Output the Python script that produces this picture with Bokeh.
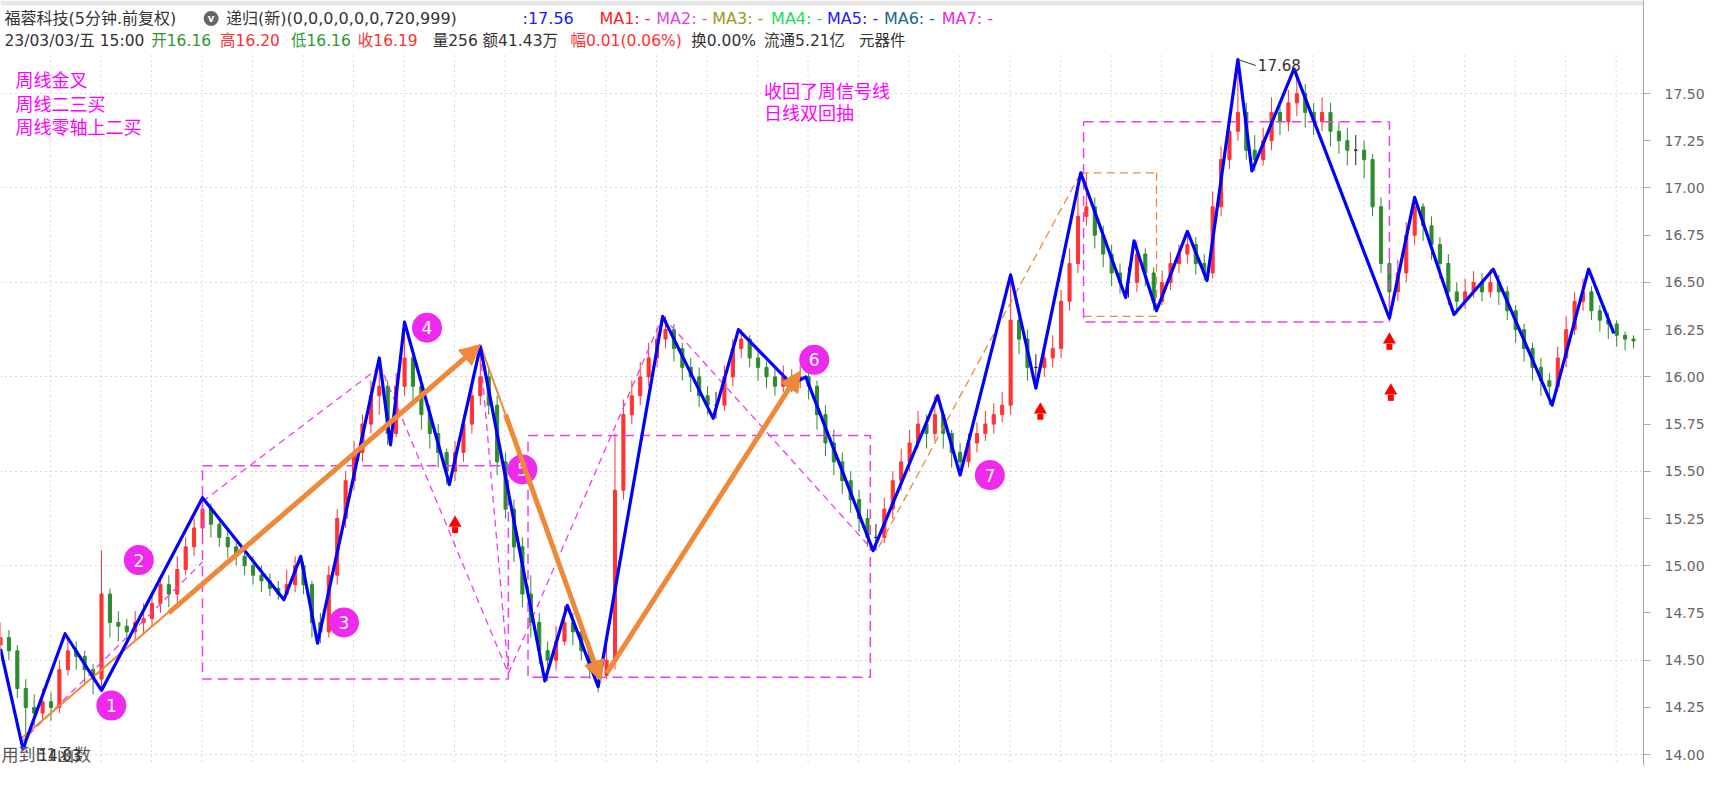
from bokeh.plotting import figure
from bokeh.models import Range1d, FixedTicker, PrintfTickFormatter, Arrow, NormalHead, ColumnDataSource
from bokeh.core.properties import value
from bokeh.embed import file_html
from bokeh.resources import INLINE

# ---------------- data ----------------
# 5-minute candles, one sample every 3 bars
BAR_STEP = 3
open_first = 14.58
close = [14.62,14.55,14.35,14.25,14.22,14.28,14.25,14.45,14.55,14.52,
         14.45,14.40,14.85,14.70,14.68,14.65,14.70,14.72,14.80,14.90,
         14.85,14.98,15.10,15.20,15.30,15.22,15.15,15.10,15.05,15.00,
         14.95,14.92,14.88,14.85,14.90,15.00,14.90,14.70,14.65,14.95,
         15.25,15.45,15.60,15.75,15.90,15.95,15.70,15.95,16.10,15.95,
         15.80,15.70,15.60,15.50,15.60,15.75,15.90,16.00,15.85,15.55,
         15.30,15.10,14.85,14.70,14.55,14.50,14.60,14.70,14.65,14.55,
         14.45,14.42,14.50,15.40,15.80,15.90,16.00,16.10,16.20,16.25,
         16.15,16.05,16.00,15.90,15.85,15.85,16.00,16.15,16.20,16.10,
         16.05,16.00,15.95,16.00,15.98,16.00,15.95,15.80,15.65,15.55,
         15.45,15.35,15.25,15.15,15.15,15.30,15.45,15.55,15.65,15.75,
         15.70,15.80,15.70,15.60,15.55,15.65,15.70,15.75,15.80,15.85,
         16.30,16.20,16.05,16.05,16.10,16.15,16.40,16.60,16.85,16.90,
         16.75,16.65,16.55,16.50,16.50,16.65,16.55,16.40,16.50,16.60,
         16.65,16.70,16.60,16.55,16.90,17.15,17.30,17.40,17.20,17.15,
         17.25,17.40,17.35,17.45,17.50,17.40,17.35,17.40,17.30,17.25,
         17.20,17.20,17.15,16.90,16.60,16.45,16.55,16.75,16.90,16.80,
         16.70,16.60,16.45,16.40,16.45,16.50,16.45,16.50,16.45,16.35,
         16.25,16.15,16.05,15.98,15.95,16.10,16.25,16.40,16.45,16.35,
         16.30,16.28,16.22,16.20,16.19]
high = [14.70,14.66,14.58,14.40,14.32,14.35,14.33,14.50,14.62,14.60,
        14.55,14.48,15.08,14.88,14.76,14.72,14.76,14.80,14.86,14.95,
        14.95,15.05,15.15,15.25,15.36,15.33,15.26,15.20,15.12,15.08,
        15.05,15.00,14.96,14.92,14.98,15.05,15.02,14.92,14.75,15.00,
        15.30,15.50,15.66,15.80,15.98,16.10,15.98,16.02,16.29,16.15,
        16.00,15.85,15.75,15.62,15.66,15.80,15.95,16.16,16.05,15.90,
        15.60,15.35,15.15,14.95,14.75,14.60,14.68,14.79,14.75,14.68,
        14.60,14.50,14.58,15.70,15.88,15.98,16.08,16.18,16.26,16.32,
        16.28,16.18,16.10,16.05,15.95,15.92,16.06,16.20,16.25,16.22,
        16.15,16.08,16.04,16.06,16.04,16.06,16.04,15.98,15.85,15.72,
        15.60,15.50,15.40,15.30,15.22,15.36,15.50,15.62,15.72,15.82,
        15.80,15.90,15.82,15.72,15.65,15.70,15.76,15.82,15.86,15.92,
        16.54,16.36,16.25,16.12,16.16,16.22,16.46,16.68,17.00,17.08,
        16.95,16.80,16.70,16.60,16.58,16.72,16.68,16.58,16.56,16.66,
        16.70,16.77,16.74,16.65,16.98,17.22,17.38,17.68,17.45,17.28,
        17.32,17.48,17.46,17.52,17.63,17.55,17.45,17.48,17.45,17.35,
        17.32,17.28,17.25,17.18,16.95,16.65,16.62,16.82,16.95,16.92,
        16.85,16.74,16.65,16.50,16.52,16.56,16.55,16.57,16.54,16.48,
        16.38,16.28,16.18,16.10,16.02,16.16,16.32,16.45,16.52,16.48,
        16.38,16.34,16.30,16.24,16.22]
low = [14.55,14.50,14.30,14.03,14.15,14.18,14.18,14.22,14.42,14.45,
       14.38,14.32,14.33,14.62,14.60,14.58,14.60,14.64,14.68,14.75,
       14.78,14.80,14.95,15.05,15.15,15.15,15.10,15.04,15.00,14.95,
       14.90,14.86,14.84,14.82,14.84,14.86,14.85,14.62,14.59,14.62,
       14.90,15.20,15.40,15.55,15.70,15.80,15.64,15.68,15.90,15.88,
       15.72,15.62,15.52,15.43,15.45,15.55,15.70,15.85,15.80,15.48,
       15.25,15.02,14.78,14.62,14.48,14.39,14.45,14.58,14.58,14.50,
       14.40,14.33,14.40,14.45,15.35,15.75,15.85,15.95,16.05,16.15,
       16.08,15.98,15.92,15.84,15.80,15.78,15.82,15.95,16.10,16.05,
       15.98,15.94,15.90,15.92,15.92,15.94,15.88,15.72,15.58,15.48,
       15.38,15.28,15.18,15.10,15.08,15.12,15.25,15.40,15.50,15.62,
       15.62,15.66,15.62,15.52,15.48,15.52,15.60,15.66,15.70,15.76,
       15.80,16.12,15.98,15.94,16.00,16.05,16.10,16.35,16.55,16.80,
       16.68,16.58,16.48,16.44,16.42,16.45,16.48,16.35,16.38,16.46,
       16.55,16.60,16.54,16.51,16.52,16.85,17.10,17.25,17.15,17.09,
       17.12,17.20,17.28,17.30,17.38,17.32,17.28,17.30,17.22,17.18,
       17.12,17.12,17.05,16.85,16.55,16.31,16.40,16.50,16.70,16.72,
       16.62,16.52,16.38,16.33,16.36,16.42,16.40,16.42,16.38,16.30,
       16.18,16.08,15.98,15.90,15.85,15.92,16.05,16.22,16.35,16.30,
       16.24,16.20,16.16,16.14,16.15]

# zigzag (递归) turning points: bar index, price
zz_bar = [0, 8, 23, 36, 72, 101, 107, 113, 135, 139, 144, 160, 171, 194, 202, 213,
          236, 254, 263, 282, 287, 311, 334, 342, 360, 369, 385, 401, 404, 412, 423,
          430, 441, 446, 461, 495, 504, 518, 532, 553, 566, 575]
zz_price = [14.56, 14.03, 14.64, 14.34, 15.36, 14.82, 15.05, 14.59, 16.10, 15.64, 16.29,
            15.43, 16.16, 14.39, 14.79, 14.36, 16.32, 15.78, 16.25, 15.96, 16.00, 15.08,
            15.90, 15.48, 16.54, 15.94, 17.08, 16.42, 16.72, 16.35, 16.77, 16.51, 17.68,
            17.09, 17.63, 16.31, 16.95, 16.33, 16.57, 15.85, 16.57, 16.23]

# orange trend lines (thin) and arrows (thick)
thin_x0 = [7, 171];      thin_y0 = [14.08, 16.17]
thin_x1 = [171, 180];    thin_y1 = [16.17, 15.80]
arr_x0 = [60, 180, 216]; arr_y0 = [14.75, 15.80, 14.43]
arr_x1 = [171, 214, 285]; arr_y1 = [16.17, 14.39, 16.03]
odash_x0 = [313, 385, 412, 386]; odash_y0 = [15.10, 17.08, 17.08, 16.32]
odash_x1 = [385, 412, 412, 412]; odash_y1 = [17.08, 17.08, 16.32, 16.32]

# magenta dashed boxes (left bar, right bar, top price, bottom price)
box_left = [72, 188, 386]
box_right = [181, 310, 495]
box_top = [15.53, 15.69, 17.35]
box_bottom = [14.40, 14.41, 16.29]
# magenta dashed diagonals
mdiag_x0 = [7, 72, 135, 171, 181, 236]
mdiag_y0 = [14.06, 15.34, 16.07, 16.13, 14.43, 16.32]
mdiag_x1 = [72, 135, 181, 181, 236, 311]
mdiag_y1 = [15.02, 16.05, 14.43, 14.43, 16.32, 15.08]

# numbered markers
mark_x = [39.5, 49.3, 122.4, 152, 186, 290, 352.6]
mark_y = [14.26, 15.03, 14.70, 16.26, 15.51, 16.09, 15.48]
mark_txt = ["1", "2", "3", "4", "5", "6", "7"]

# red up arrows
up_x = [162, 370.6, 495, 495.5]
up_y = [15.21, 15.81, 16.18, 15.91]

y_ticks = [14.00, 14.25, 14.50, 14.75, 15.00, 15.25, 15.50, 15.75, 16.00,
           16.25, 16.50, 16.75, 17.00, 17.25, 17.50]
y_grid = [14.0, 14.5, 15.0, 15.5, 16.0, 16.5, 17.0, 17.5]

header1 = [("福蓉科技(5分钟.前复权)", 4, "#333333"), ("递归(新)(0,0,0,0,0,0,720,999)", 226, "#333333"),
           (":17.56", 523, "#1a1aff"), ("MA1: -", 600, "#ff2020"), ("MA2: -", 657, "#dd44dd"),
           ("MA3: -", 713, "#9a9a22"), ("MA4: -", 772, "#22dd55"), ("MA5: -", 828, "#2222ff"),
           ("MA6: -", 885, "#226688"), ("MA7: -", 943, "#ee22ee")]
header2 = [("23/03/03/五 15:00", 4, "#333333"), ("开16.16", 151, "#2e9a2e"), ("高16.20", 220, "#ff3030"),
           ("低16.16", 291, "#2e9a2e"), ("收16.19", 358, "#ff3030"), ("量256", 433, "#333333"),
           ("额41.43万", 483, "#333333"), ("幅0.01(0.06%)", 571, "#ff3030"), ("换0.00%", 692, "#333333"),
           ("流通5.21亿", 765, "#333333"), ("元器件", 860, "#333333")]
notes_left = ["周线金叉", "周线二三买", "周线零轴上二买"]
notes_mid = ["收回了周信号线", "日线双回抽"]

# ---------------- layout helpers (pixels of the frame -> data) ----------------
PX = 2.811        # pixels per bar
PPU = 188.9       # pixels per price unit
FRAME_W, FRAME_H = 1646, 765
Y_TOP = 17.5 + 93 / PPU

def X(px):
    return px / PX

def Y(py):
    return Y_TOP - py / PPU

p = figure(width=1707, height=773, output_backend="svg", toolbar_location=None,
           x_range=Range1d(0, FRAME_W / PX), y_range=Range1d(Y(FRAME_H), Y_TOP),
           x_axis_location=None, y_axis_location="right",
           min_border_left=0, min_border_right=61, min_border_top=0, min_border_bottom=8)
p.outline_line_color = None
p.background_fill_color = "white"
p.border_fill_color = "white"

ax = p.yaxis[0]
ax.ticker = FixedTicker(ticks=y_ticks)
ax.formatter = PrintfTickFormatter(format="%.2f")
ax.axis_line_color = "#a8a8a8"
ax.major_tick_line_color = "#a8a8a8"
ax.major_tick_out = 7
ax.major_tick_in = 0
ax.minor_tick_line_color = None
ax.major_label_text_color = "#666666"
ax.major_label_text_font = "DejaVu Sans"
ax.major_label_text_font_size = "14px"
ax.major_label_standoff = 14

p.xgrid.visible = False
p.ygrid.ticker = FixedTicker(ticks=y_grid)
p.ygrid.grid_line_color = "#b4b4b4"
p.ygrid.grid_line_dash = "1 4"

# vertical dotted grid every 50.6px, below the header
gx = [X(50 + 50.6 * k) for k in range(33) if 50 + 50.6 * k < FRAME_W - 10]
p.segment(x0=gx, y0=[Y(55)] * len(gx), x1=gx, y1=[Y(FRAME_H)] * len(gx),
          line_color="#b4b4b4", line_dash="1 4", line_width=1)

# top tab band
p.quad(left=[X(0)], right=[X(FRAME_W)], top=[Y(0)], bottom=[Y(5)], fill_color="#e6e6e6", line_color=None)

# ---------------- candles ----------------
opens = [open_first] + close[:-1]
bx = [k * BAR_STEP for k in range(len(close))]
cols = []
for o, c in zip(opens, close):
    cols.append("#ff3333" if c > o else ("#2e8b2e" if c < o else "#222222"))
src = ColumnDataSource(dict(x=bx, o=opens, c=close, h=high, l=low,
                            top=[max(a, b) for a, b in zip(opens, close)],
                            bot=[min(a, b) for a, b in zip(opens, close)], col=cols))
p.segment(x0="x", y0="l", x1="x", y1="h", color="col", line_width=1, source=src)
p.vbar(x="x", width=1.1, top="top", bottom="bot", fill_color="col", line_color="col", source=src)

# ---------------- magenta dashed structure ----------------
MAG = "#f03cf0"
for l, r, t, b in zip(box_left, box_right, box_top, box_bottom):
    p.line([l, r, r, l, l], [t, t, b, b, t], line_color=MAG, line_dash="10 6", line_width=1.5)
p.segment(x0=mdiag_x0, y0=mdiag_y0, x1=mdiag_x1, y1=mdiag_y1, line_color=MAG,
          line_dash="7 5", line_width=1.3)

# ---------------- orange lines ----------------
ORG = "#f0883a"
p.segment(x0=thin_x0, y0=thin_y0, x1=thin_x1, y1=thin_y1, line_color=ORG, line_width=2)
p.segment(x0=odash_x0, y0=odash_y0, x1=odash_x1, y1=odash_y1, line_color=ORG, line_width=1.3,
          line_dash="8 5")

# ---------------- zigzag ----------------
p.line(zz_bar, zz_price, line_color="#0000ff", line_width=3.2, line_join="round")

for x0, y0, x1, y1 in zip(arr_x0, arr_y0, arr_x1, arr_y1):
    p.add_layout(Arrow(x_start=x0, y_start=y0, x_end=x1, y_end=y1, line_color=ORG, line_width=5,
                       end=NormalHead(size=20, fill_color=ORG, line_color=ORG)))

# ---------------- markers ----------------
p.scatter(mark_x, mark_y, marker="circle", size=30, fill_color="#ee2aee", line_color=None)
p.text(mark_x, mark_y, text=mark_txt, text_color="white", text_align="center", text_baseline="middle",
       text_font=value("DejaVu Sans"), text_font_size="17px")

p.scatter(up_x, [y + 3 / PPU for y in up_y], marker="triangle", size=13, fill_color="#ff0000", line_color=None)
p.scatter(up_x, [y - 4 / PPU for y in up_y], marker="square", size=6, fill_color="#ff0000", line_color=None)

# peak label
pk = zz_price.index(max(zz_price))
p.segment(x0=[zz_bar[pk]], y0=[zz_price[pk]], x1=[zz_bar[pk] + X(18)], y1=[zz_price[pk] - 6 / PPU],
          line_color="#333333", line_width=1)
p.text([zz_bar[pk] + X(20)], [zz_price[pk] - 6 / PPU], text=["%.2f" % zz_price[pk]], text_color="#333333",
       text_baseline="middle", text_font=value("DejaVu Sans"), text_font_size="15px")

# low label (overlapping the formula note, as in the terminal)
lw = zz_price.index(min(zz_price))
MIX = value("DejaVu Sans, Noto Sans CJK SC")
p.text([X(1)], [Y(754)], text=["用到E1函数"], text_color="#555555", text_baseline="middle",
       text_font=MIX, text_font_size="17px")
p.text([X(38)], [Y(754)], text=["%.2f" % zz_price[lw]], text_color="#333333", text_baseline="middle",
       text_font=value("DejaVu Sans"), text_font_size="15px")

# ---------------- header ----------------
p.text([X(h[1]) for h in header1], [Y(18)] * len(header1), text=[h[0] for h in header1],
       text_color=[h[2] for h in header1], text_baseline="middle", text_font=MIX, text_font_size="16px")
p.text([X(h[1]) for h in header2], [Y(40)] * len(header2), text=[h[0] for h in header2],
       text_color=[h[2] for h in header2], text_baseline="middle", text_font=MIX, text_font_size="15.5px")
p.scatter([X(211)], [Y(18)], marker="circle", size=15, fill_color="#666666", line_color=None)
p.text([X(211)], [Y(18)], text=["v"], text_color="white", text_align="center", text_baseline="middle",
       text_font=value("DejaVu Sans"), text_font_size="10px", text_font_style="bold")

# ---------------- notes ----------------
FONT = value("Noto Sans CJK SC")
p.text([X(15)] * 3, [Y(78), Y(102), Y(125)], text=notes_left, text_color="#ff00ff",
       text_baseline="middle", text_font=FONT, text_font_size="18px")
p.text([X(765)] * 2, [Y(89), Y(111)], text=notes_mid, text_color="#ff00ff",
       text_baseline="middle", text_font=FONT, text_font_size="18px")

open("out.html", "w").write(file_html(p, INLINE))
